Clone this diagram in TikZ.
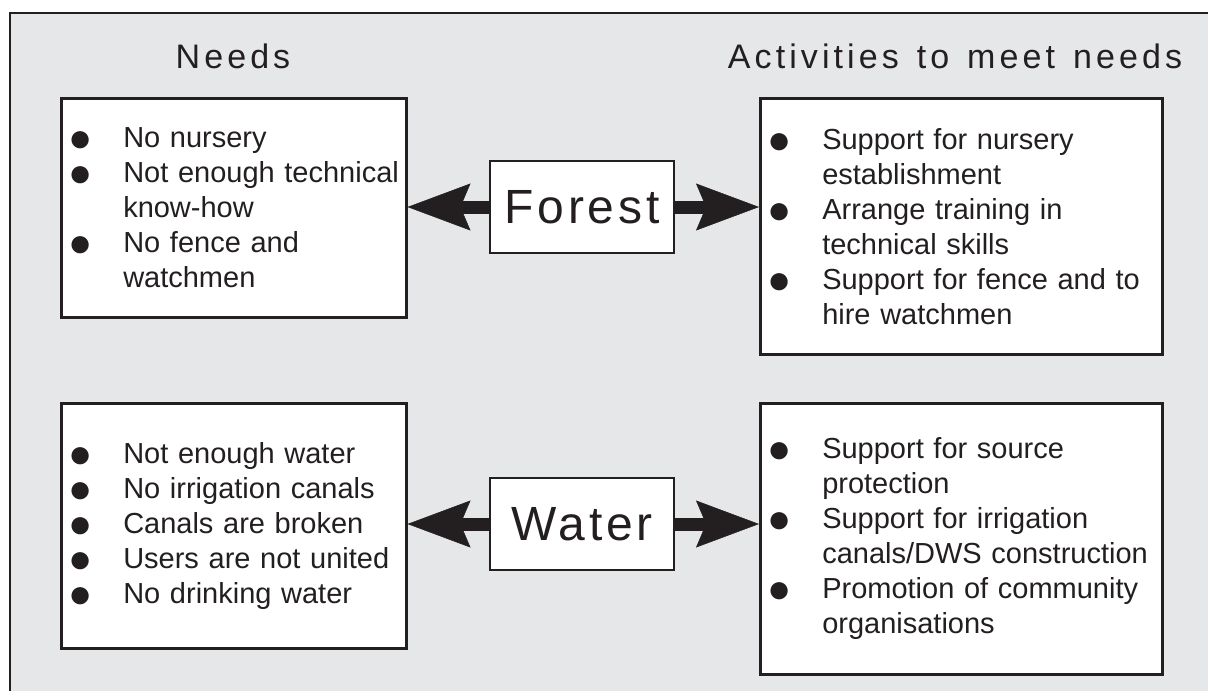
\documentclass[tikz,border=0pt]{standalone}
\usepackage{fontspec}
\setmainfont{Liberation Sans}
\usetikzlibrary{arrows.meta}
\definecolor{panelgray}{HTML}{E6E7E8}
\definecolor{ink}{HTML}{231F20}
\newcommand{\bodyfont}{\fontsize{29}{35}\selectfont}
\newcommand{\headfont}{\fontsize{34}{40}\selectfont\addfontfeature{LetterSpace=12}\spaceskip=18pt}
\newcommand{\topicfont}{\fontsize{48}{56}\selectfont\addfontfeature{LetterSpace=8}}
\newcommand{\needitem}[1]{\mbox{\makebox[46pt][l]{\hspace*{-9pt}\smash{\raisebox{-4pt}{\fontsize{40}{35}\selectfont ●}}}#1}}
\newcommand{\needmore}[1]{\mbox{\hspace*{46pt}#1}}
\tikzstyle{listbox} = [rectangle, draw=ink, line width=2.5pt, fill=white, anchor=north west, align=left, inner xsep=16pt, inner ysep=0pt, text=ink, font=\bodyfont]
\tikzstyle{topic} = [rectangle, draw=ink, line width=2.5pt, fill=white, minimum width=184pt, minimum height=92pt, inner sep=0pt, text=ink, font=\topicfont]
\tikzstyle{heading} = [anchor=base, text=ink, font=\headfont]
\tikzstyle{fatarrow} = [line width=13pt, draw=ink, -{Stealth[length=63pt, width=47pt, inset=10pt, line width=0.5pt]}]

\begin{document}
\begin{tikzpicture}[x=1pt, y=-1pt]
    \useasboundingbox (0,0) rectangle (1208,691);
    \clip (0,0) rectangle (1208,691);
    \fill[panelgray, draw=ink, line width=2pt] (10,13) rectangle (1240,720);

    \node (needshead) [heading] at (233,68) {Needs};
    \node (acthead) [heading] at (955,68) {Activities to meet needs};

    % forest row
    \node (forest) [topic] at (582,207) {Forest};
    \node (needsforest) [listbox, text width=313pt, minimum height=219pt] at (60,97) {%
        \needitem{No nursery}\\
        \needitem{Not enough technical}\\
        \needmore{know-how}\\
        \needitem{No fence and}\\
        \needmore{watchmen}};
    \node (actforest) [listbox, text width=370pt, minimum height=256pt] at (759,97) {%
        \needitem{Support for nursery}\\
        \needmore{establishment}\\
        \needitem{Arrange training in}\\
        \needmore{technical skills}\\
        \needitem{Support for fence and to}\\
        \needmore{hire watchmen}};

    % water row
    \node (water) [topic] at (582,524) {Water};
    \node (needswater) [listbox, text width=313pt, minimum height=245pt] at (60,402) {%
        \needitem{Not enough water}\\
        \needitem{No irrigation canals}\\
        \needitem{Canals are broken}\\
        \needitem{Users are not united}\\
        \needitem{No drinking water}};
    \node (actwater) [listbox, text width=370pt, minimum height=271pt] at (759,402) {%
        \needitem{Support for source}\\
        \needmore{protection}\\
        \needitem{Support for irrigation}\\
        \needmore{canals/DWS construction}\\
        \needitem{Promotion of community}\\
        \needmore{organisations}};

    \draw [fatarrow] (forest.west) -- (forest.west -| needsforest.east);
    \draw [fatarrow] (forest.east) -- (forest.east -| actforest.west);
    \draw [fatarrow] (water.west) -- (water.west -| needswater.east);
    \draw [fatarrow] (water.east) -- (water.east -| actwater.west);
\end{tikzpicture}
\end{document}
